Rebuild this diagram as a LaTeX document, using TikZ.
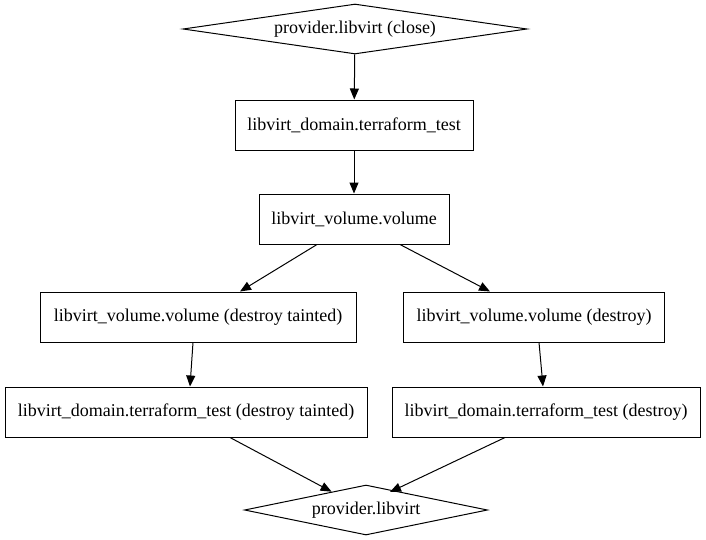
\documentclass[tikz,border=0pt]{standalone}
\usepackage{fontspec}
\setmainfont{Liberation Serif}
\usetikzlibrary{shapes.geometric,arrows.meta}
\tikzset{
	recurso/.style={draw,rectangle,line width=1pt,minimum height=50pt,inner sep=0pt,font=\fontsize{18}{20}\selectfont},
	provedor/.style={draw,diamond,line width=1pt,inner sep=0pt,aspect=6.9,font=\fontsize{18}{20}\selectfont},
	seta/.style={line width=1pt,-{Triangle[length=11pt,width=9pt]}}
}
\begin{document}
\begin{tikzpicture}[x=1pt,y=-1pt]
	\useasboundingbox (0,0) rectangle (706,539);
	
%	provider no topo
	\node[provedor,minimum width=344pt,minimum height=50pt] (close) at (355,29) {provider.libvirt (close)};
	
	\node[recurso,minimum width=238pt] (dom) at (354,125) {libvirt\_domain.terraform\_test};
	\node[recurso,minimum width=190pt] (vol) at (354,219) {libvirt\_volume.volume};
	
%	ramo esquerdo
	\node[recurso,minimum width=316pt] (volt) at (198,317) {libvirt\_volume.volume (destroy tainted)};
	\node[recurso,minimum width=362pt] (domt) at (186,412) {libvirt\_domain.terraform\_test (destroy tainted)};
	
%	ramo direito
	\node[recurso,minimum width=261pt] (vold) at (534,317) {libvirt\_volume.volume (destroy)};
	\node[recurso,minimum width=308pt] (domd) at (546,412) {libvirt\_domain.terraform\_test (destroy)};
	
%	provider embaixo
	\node[provedor,minimum width=243pt,minimum height=50pt] (prov) at (366,510) {provider.libvirt};
	
	\draw[seta] (close) -- (dom);
	\draw[seta] (dom) -- (vol);
	\draw[seta] ([xshift=-37pt]vol.south) -- ([xshift=42pt]volt.north);
	\draw[seta] ([xshift=46pt]vol.south) -- ([xshift=-44pt]vold.north);
	\draw[seta] ([xshift=-5pt]volt.south) -- ([xshift=4pt]domt.north);
	\draw[seta] ([xshift=5pt]vold.south) -- ([xshift=-3pt]domd.north);
	\draw[seta] ([xshift=44pt]domt.south) -- (prov);
	\draw[seta] ([xshift=-41pt]domd.south) -- ([xshift=24pt,yshift=18pt]prov.center);
\end{tikzpicture}
\end{document}
